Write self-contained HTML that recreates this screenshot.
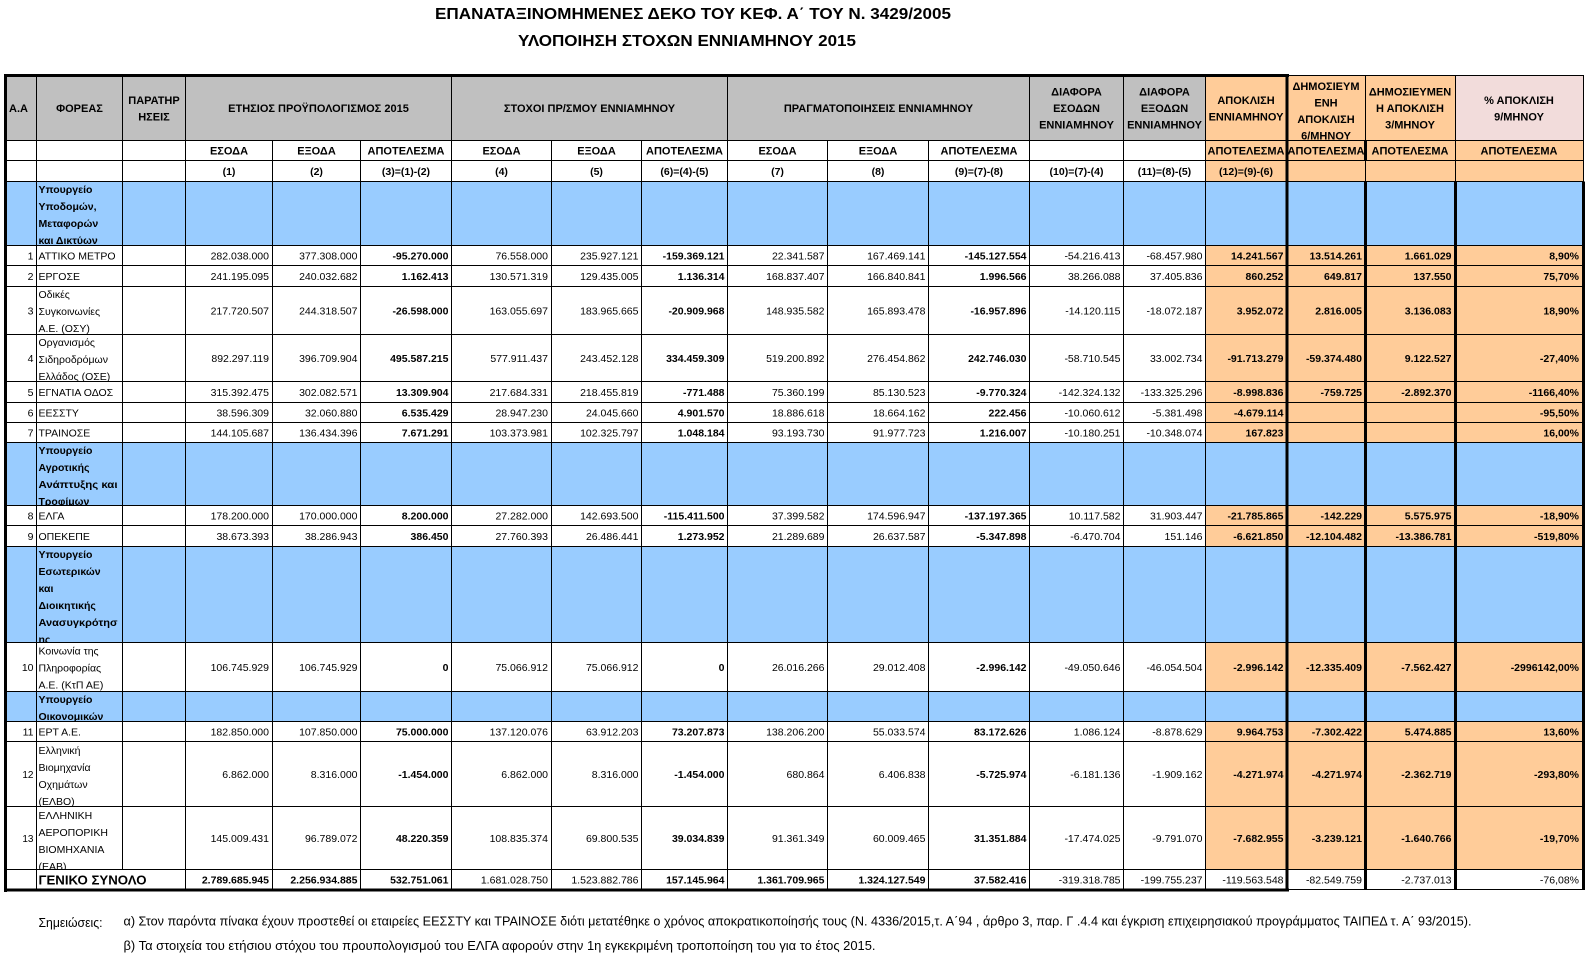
<!DOCTYPE html>
<html><head><meta charset="utf-8"><title>ΕΠΑΝΑΤΑΞΙΝΟΜΗΜΕΝΕΣ ΔΕΚΟ</title>
<style>
html,body{margin:0;padding:0;background:#fff;}
svg{display:block;}
text{font-family:"Liberation Sans","DejaVu Sans",sans-serif;font-size:10.5px;fill:#000;}
.b{font-weight:bold;}
.h{font-weight:bold;font-size:11px;text-anchor:middle;}
.e{text-anchor:end;}
.m{text-anchor:middle;}
.s{font-weight:bold;}
</style></head>
<body>
<svg width="1586" height="954" viewBox="0 0 1586 954" xmlns="http://www.w3.org/2000/svg">
<defs>
<clipPath id="kh"><rect x="1287" y="76" width="78" height="64.5"/></clipPath>
<clipPath id="ks1"><rect x="36.5" y="181.5" width="86" height="64"/></clipPath>
<clipPath id="ks2"><rect x="36.5" y="442.5" width="86" height="63"/></clipPath>
<clipPath id="ks3"><rect x="36.5" y="546.5" width="86" height="96"/></clipPath>
<clipPath id="ks4"><rect x="36.5" y="691.5" width="86" height="30"/></clipPath>
<clipPath id="k3"><rect x="36.5" y="286.5" width="86" height="48"/></clipPath>
<clipPath id="k4"><rect x="36.5" y="334.5" width="86" height="47"/></clipPath>
<clipPath id="k10"><rect x="36.5" y="642.5" width="86" height="49"/></clipPath>
<clipPath id="k12"><rect x="36.5" y="741.5" width="86" height="65"/></clipPath>
<clipPath id="k13"><rect x="36.5" y="806.5" width="86" height="63"/></clipPath>
</defs>

<!-- backgrounds -->
<rect x="0" y="0" width="1586" height="954" fill="#fff"/>
<rect x="7" y="76" width="1198.5" height="64.5" fill="#c0c0c0"/>
<rect x="1205.5" y="76" width="378" height="793.5" fill="#ffcc99"/>
<rect x="1455" y="76" width="128.5" height="64.5" fill="#f2dcdb"/>
<rect x="7" y="181.5" width="1576.5" height="64" fill="#99ccff"/>
<rect x="7" y="442.5" width="1576.5" height="63" fill="#99ccff"/>
<rect x="7" y="546.5" width="1576.5" height="96" fill="#99ccff"/>
<rect x="7" y="691.5" width="1576.5" height="30" fill="#99ccff"/>
<rect x="1205.5" y="869.5" width="378" height="20" fill="#fff"/>

<!-- Title -->
<text x="435" y="19" textLength="516" lengthAdjust="spacingAndGlyphs" style="font-size:16px;font-weight:bold">ΕΠΑΝΑΤΑΞΙΝΟΜΗΜΕΝΕΣ ΔΕΚΟ ΤΟΥ ΚΕΦ. Α΄ ΤΟΥ Ν. 3429/2005</text>
<text x="518" y="46" textLength="338" lengthAdjust="spacingAndGlyphs" style="font-size:16px;font-weight:bold">ΥΛΟΠΟΙΗΣΗ ΣΤΟΧΩΝ ΕΝΝΙΑΜΗΝΟΥ 2015</text>

<!-- Header row 1 -->
<text class="b" x="9" y="112" style="font-size:11px">Α.Α</text>
<text class="h" x="79.5" y="112">ΦΟΡΕΑΣ</text>
<text class="h" x="154" y="104">ΠΑΡΑΤΗΡ</text>
<text class="h" x="154" y="120.5">ΗΣΕΙΣ</text>
<text class="h" x="318.5" y="112">ΕΤΗΣΙΟΣ ΠΡΟΫΠΟΛΟΓΙΣΜΟΣ 2015</text>
<text class="h" x="589.5" y="112">ΣΤΟΧΟΙ ΠΡ/ΣΜΟΥ ΕΝΝΙΑΜΗΝΟΥ</text>
<text class="h" x="878.5" y="112">ΠΡΑΓΜΑΤΟΠΟΙΗΣΕΙΣ ΕΝΝΙΑΜΗΝΟΥ</text>
<text class="h" x="1076.5" y="95.5">ΔΙΑΦΟΡΑ</text>
<text class="h" x="1076.5" y="112">ΕΣΟΔΩΝ</text>
<text class="h" x="1076.5" y="128.5">ΕΝΝΙΑΜΗΝΟΥ</text>
<text class="h" x="1164.5" y="95.5">ΔΙΑΦΟΡΑ</text>
<text class="h" x="1164.5" y="112">ΕΞΟΔΩΝ</text>
<text class="h" x="1164.5" y="128.5">ΕΝΝΙΑΜΗΝΟΥ</text>
<text class="h" x="1246" y="104">ΑΠΟΚΛΙΣΗ</text>
<text class="h" x="1246" y="120.5">ΕΝΝΙΑΜΗΝΟΥ</text>
<g clip-path="url(#kh)">
<text class="h" x="1326" y="90">ΔΗΜΟΣΙΕΥΜ</text>
<text class="h" x="1326" y="106.5">ΕΝΗ</text>
<text class="h" x="1326" y="123">ΑΠΟΚΛΙΣΗ</text>
<text class="h" x="1326" y="139.5">6/ΜΗΝΟΥ</text>
</g>
<text class="h" x="1410" y="95.5">ΔΗΜΟΣΙΕΥΜΕΝ</text>
<text class="h" x="1410" y="112">Η ΑΠΟΚΛΙΣΗ</text>
<text class="h" x="1410" y="128.5">3/ΜΗΝΟΥ</text>
<text class="h" x="1519" y="104">% ΑΠΟΚΛΙΣΗ</text>
<text class="h" x="1519" y="120.5">9/ΜΗΝΟΥ</text>

<!-- Header row 2 -->
<g transform="translate(0,154.5)">
<text class="h" x="229">ΕΣΟΔΑ</text><text class="h" x="316.5">ΕΞΟΔΑ</text><text class="h" x="406">ΑΠΟΤΕΛΕΣΜΑ</text>
<text class="h" x="501.5">ΕΣΟΔΑ</text><text class="h" x="596.5">ΕΞΟΔΑ</text><text class="h" x="684.5">ΑΠΟΤΕΛΕΣΜΑ</text>
<text class="h" x="777.5">ΕΣΟΔΑ</text><text class="h" x="878">ΕΞΟΔΑ</text><text class="h" x="979">ΑΠΟΤΕΛΕΣΜΑ</text>
<text class="h" x="1246">ΑΠΟΤΕΛΕΣΜΑ</text><text class="h" x="1326">ΑΠΟΤΕΛΕΣΜΑ</text><text class="h" x="1410">ΑΠΟΤΕΛΕΣΜΑ</text><text class="h" x="1519">ΑΠΟΤΕΛΕΣΜΑ</text>
</g>
<!-- Header row 3 -->
<g transform="translate(0,175)">
<text class="m b" x="229">(1)</text><text class="m b" x="316.5">(2)</text><text class="m b" x="406">(3)=(1)-(2)</text>
<text class="m b" x="501.5">(4)</text><text class="m b" x="596.5">(5)</text><text class="m b" x="684.5">(6)=(4)-(5)</text>
<text class="m b" x="777.5">(7)</text><text class="m b" x="878">(8)</text><text class="m b" x="979">(9)=(7)-(8)</text>
<text class="m b" x="1076.5">(10)=(7)-(4)</text><text class="m b" x="1164.5">(11)=(8)-(5)</text><text class="m b" x="1246">(12)=(9)-(6)</text>
</g>

<!-- Section 1 -->
<g clip-path="url(#ks1)">
<text class="s" x="38.5" y="193">Υπουργείο</text>
<text class="s" x="38.5" y="210">Υποδομών,</text>
<text class="s" x="38.5" y="227">Μεταφορών</text>
<text class="s" x="38.5" y="244">και Δικτύων</text>
</g>

<!-- Row 1 -->
<g transform="translate(0,259.5)">
<text class="e" x="33.5">1</text><text x="38.5">ΑΤΤΙΚΟ ΜΕΤΡΟ</text>
<text class="e" x="269">282.038.000</text><text class="e" x="357.5">377.308.000</text><text class="e b" x="448.5">-95.270.000</text>
<text class="e" x="548">76.558.000</text><text class="e" x="638.5">235.927.121</text><text class="e b" x="724.5">-159.369.121</text>
<text class="e" x="824.5">22.341.587</text><text class="e" x="925.5">167.469.141</text><text class="e b" x="1026.5">-145.127.554</text>
<text class="e" x="1120.5">-54.216.413</text><text class="e" x="1202.5">-68.457.980</text>
<text class="e b" x="1283.5">14.241.567</text><text class="e b" x="1362">13.514.261</text><text class="e b" x="1451.5">1.661.029</text><text class="e b" x="1579">8,90%</text>
</g>
<!-- Row 2 -->
<g transform="translate(0,280)">
<text class="e" x="33.5">2</text><text x="38.5">ΕΡΓΟΣΕ</text>
<text class="e" x="269">241.195.095</text><text class="e" x="357.5">240.032.682</text><text class="e b" x="448.5">1.162.413</text>
<text class="e" x="548">130.571.319</text><text class="e" x="638.5">129.435.005</text><text class="e b" x="724.5">1.136.314</text>
<text class="e" x="824.5">168.837.407</text><text class="e" x="925.5">166.840.841</text><text class="e b" x="1026.5">1.996.566</text>
<text class="e" x="1120.5">38.266.088</text><text class="e" x="1202.5">37.405.836</text>
<text class="e b" x="1283.5">860.252</text><text class="e b" x="1362">649.817</text><text class="e b" x="1451.5">137.550</text><text class="e b" x="1579">75,70%</text>
</g>
<!-- Row 3 -->
<g clip-path="url(#k3)">
<text x="38.5" y="298">Οδικές</text><text x="38.5" y="315">Συγκοινωνίες</text><text x="38.5" y="332">Α.Ε.  (ΟΣΥ)</text>
</g>
<g transform="translate(0,314.5)">
<text class="e" x="33.5">3</text>
<text class="e" x="269">217.720.507</text><text class="e" x="357.5">244.318.507</text><text class="e b" x="448.5">-26.598.000</text>
<text class="e" x="548">163.055.697</text><text class="e" x="638.5">183.965.665</text><text class="e b" x="724.5">-20.909.968</text>
<text class="e" x="824.5">148.935.582</text><text class="e" x="925.5">165.893.478</text><text class="e b" x="1026.5">-16.957.896</text>
<text class="e" x="1120.5">-14.120.115</text><text class="e" x="1202.5">-18.072.187</text>
<text class="e b" x="1283.5">3.952.072</text><text class="e b" x="1362">2.816.005</text><text class="e b" x="1451.5">3.136.083</text><text class="e b" x="1579">18,90%</text>
</g>
<!-- Row 4 -->
<g clip-path="url(#k4)">
<text x="38.5" y="346">Οργανισμός</text><text x="38.5" y="363">Σιδηροδρόμων</text><text x="38.5" y="380">Ελλάδος (ΟΣΕ)</text>
</g>
<g transform="translate(0,362)">
<text class="e" x="33.5">4</text>
<text class="e" x="269">892.297.119</text><text class="e" x="357.5">396.709.904</text><text class="e b" x="448.5">495.587.215</text>
<text class="e" x="548">577.911.437</text><text class="e" x="638.5">243.452.128</text><text class="e b" x="724.5">334.459.309</text>
<text class="e" x="824.5">519.200.892</text><text class="e" x="925.5">276.454.862</text><text class="e b" x="1026.5">242.746.030</text>
<text class="e" x="1120.5">-58.710.545</text><text class="e" x="1202.5">33.002.734</text>
<text class="e b" x="1283.5">-91.713.279</text><text class="e b" x="1362">-59.374.480</text><text class="e b" x="1451.5">9.122.527</text><text class="e b" x="1579">-27,40%</text>
</g>
<!-- Row 5 -->
<g transform="translate(0,396)">
<text class="e" x="33.5">5</text><text x="38.5">ΕΓΝΑΤΙΑ ΟΔΟΣ</text>
<text class="e" x="269">315.392.475</text><text class="e" x="357.5">302.082.571</text><text class="e b" x="448.5">13.309.904</text>
<text class="e" x="548">217.684.331</text><text class="e" x="638.5">218.455.819</text><text class="e b" x="724.5">-771.488</text>
<text class="e" x="824.5">75.360.199</text><text class="e" x="925.5">85.130.523</text><text class="e b" x="1026.5">-9.770.324</text>
<text class="e" x="1120.5">-142.324.132</text><text class="e" x="1202.5">-133.325.296</text>
<text class="e b" x="1283.5">-8.998.836</text><text class="e b" x="1362">-759.725</text><text class="e b" x="1451.5">-2.892.370</text><text class="e b" x="1579">-1166,40%</text>
</g>
<!-- Row 6 -->
<g transform="translate(0,416.5)">
<text class="e" x="33.5">6</text><text x="38.5">ΕΕΣΣΤΥ</text>
<text class="e" x="269">38.596.309</text><text class="e" x="357.5">32.060.880</text><text class="e b" x="448.5">6.535.429</text>
<text class="e" x="548">28.947.230</text><text class="e" x="638.5">24.045.660</text><text class="e b" x="724.5">4.901.570</text>
<text class="e" x="824.5">18.886.618</text><text class="e" x="925.5">18.664.162</text><text class="e b" x="1026.5">222.456</text>
<text class="e" x="1120.5">-10.060.612</text><text class="e" x="1202.5">-5.381.498</text>
<text class="e b" x="1283.5">-4.679.114</text><text class="e b" x="1579">-95,50%</text>
</g>
<!-- Row 7 -->
<g transform="translate(0,436.5)">
<text class="e" x="33.5">7</text><text x="38.5">ΤΡΑΙΝΟΣΕ</text>
<text class="e" x="269">144.105.687</text><text class="e" x="357.5">136.434.396</text><text class="e b" x="448.5">7.671.291</text>
<text class="e" x="548">103.373.981</text><text class="e" x="638.5">102.325.797</text><text class="e b" x="724.5">1.048.184</text>
<text class="e" x="824.5">93.193.730</text><text class="e" x="925.5">91.977.723</text><text class="e b" x="1026.5">1.216.007</text>
<text class="e" x="1120.5">-10.180.251</text><text class="e" x="1202.5">-10.348.074</text>
<text class="e b" x="1283.5">167.823</text><text class="e b" x="1579">16,00%</text>
</g>
<!-- Section 2 -->
<g clip-path="url(#ks2)">
<text class="s" x="38.5" y="454">Υπουργείο</text>
<text class="s" x="38.5" y="471">Αγροτικής</text>
<text class="s" x="38.5" y="488" textLength="79" lengthAdjust="spacingAndGlyphs">Ανάπτυξης και</text>
<text class="s" x="38.5" y="505">Τροφίμων</text>
</g>
<!-- Row 8 -->
<g transform="translate(0,519.5)">
<text class="e" x="33.5">8</text><text x="38.5">ΕΛΓΑ</text>
<text class="e" x="269">178.200.000</text><text class="e" x="357.5">170.000.000</text><text class="e b" x="448.5">8.200.000</text>
<text class="e" x="548">27.282.000</text><text class="e" x="638.5">142.693.500</text><text class="e b" x="724.5">-115.411.500</text>
<text class="e" x="824.5">37.399.582</text><text class="e" x="925.5">174.596.947</text><text class="e b" x="1026.5">-137.197.365</text>
<text class="e" x="1120.5">10.117.582</text><text class="e" x="1202.5">31.903.447</text>
<text class="e b" x="1283.5">-21.785.865</text><text class="e b" x="1362">-142.229</text><text class="e b" x="1451.5">5.575.975</text><text class="e b" x="1579">-18,90%</text>
</g>
<!-- Row 9 -->
<g transform="translate(0,540)">
<text class="e" x="33.5">9</text><text x="38.5">ΟΠΕΚΕΠΕ</text>
<text class="e" x="269">38.673.393</text><text class="e" x="357.5">38.286.943</text><text class="e b" x="448.5">386.450</text>
<text class="e" x="548">27.760.393</text><text class="e" x="638.5">26.486.441</text><text class="e b" x="724.5">1.273.952</text>
<text class="e" x="824.5">21.289.689</text><text class="e" x="925.5">26.637.587</text><text class="e b" x="1026.5">-5.347.898</text>
<text class="e" x="1120.5">-6.470.704</text><text class="e" x="1202.5">151.146</text>
<text class="e b" x="1283.5">-6.621.850</text><text class="e b" x="1362">-12.104.482</text><text class="e b" x="1451.5">-13.386.781</text><text class="e b" x="1579">-519,80%</text>
</g>
<!-- Section 3 -->
<g clip-path="url(#ks3)">
<text class="s" x="38.5" y="558">Υπουργείο</text>
<text class="s" x="38.5" y="575">Εσωτερικών</text>
<text class="s" x="38.5" y="592">και</text>
<text class="s" x="38.5" y="609">Διοικητικής</text>
<text class="s" x="38.5" y="626" textLength="79" lengthAdjust="spacingAndGlyphs">Ανασυγκρότησ</text>
<text class="s" x="38.5" y="643">ης</text>
</g>
<!-- Row 10 -->
<g clip-path="url(#k10)">
<text x="38.5" y="654.5">Κοινωνία της</text><text x="38.5" y="671.5">Πληροφορίας</text><text x="38.5" y="688.5">Α.Ε. (ΚτΠ ΑΕ)</text>
</g>
<g transform="translate(0,671)">
<text class="e" x="33.5">10</text>
<text class="e" x="269">106.745.929</text><text class="e" x="357.5">106.745.929</text><text class="e b" x="448.5">0</text>
<text class="e" x="548">75.066.912</text><text class="e" x="638.5">75.066.912</text><text class="e b" x="724.5">0</text>
<text class="e" x="824.5">26.016.266</text><text class="e" x="925.5">29.012.408</text><text class="e b" x="1026.5">-2.996.142</text>
<text class="e" x="1120.5">-49.050.646</text><text class="e" x="1202.5">-46.054.504</text>
<text class="e b" x="1283.5">-2.996.142</text><text class="e b" x="1362">-12.335.409</text><text class="e b" x="1451.5">-7.562.427</text><text class="e b" x="1579">-2996142,00%</text>
</g>
<!-- Section 4 -->
<g clip-path="url(#ks4)">
<text class="s" x="38.5" y="703">Υπουργείο</text>
<text class="s" x="38.5" y="720">Οικονομικών</text>
</g>
<!-- Row 11 -->
<g transform="translate(0,735.5)">
<text class="e" x="33.5">11</text><text x="38.5">ΕΡΤ Α.Ε.</text>
<text class="e" x="269">182.850.000</text><text class="e" x="357.5">107.850.000</text><text class="e b" x="448.5">75.000.000</text>
<text class="e" x="548">137.120.076</text><text class="e" x="638.5">63.912.203</text><text class="e b" x="724.5">73.207.873</text>
<text class="e" x="824.5">138.206.200</text><text class="e" x="925.5">55.033.574</text><text class="e b" x="1026.5">83.172.626</text>
<text class="e" x="1120.5">1.086.124</text><text class="e" x="1202.5">-8.878.629</text>
<text class="e b" x="1283.5">9.964.753</text><text class="e b" x="1362">-7.302.422</text><text class="e b" x="1451.5">5.474.885</text><text class="e b" x="1579">13,60%</text>
</g>
<!-- Row 12 -->
<g clip-path="url(#k12)">
<text x="38.5" y="754">Ελληνική</text><text x="38.5" y="771">Βιομηχανία</text><text x="38.5" y="788">Οχημάτων</text><text x="38.5" y="805">(ΕΛΒΟ)</text>
</g>
<g transform="translate(0,778)">
<text class="e" x="33.5" style="font-size:10px">12</text>
<text class="e" x="269">6.862.000</text><text class="e" x="357.5">8.316.000</text><text class="e b" x="448.5">-1.454.000</text>
<text class="e" x="548">6.862.000</text><text class="e" x="638.5">8.316.000</text><text class="e b" x="724.5">-1.454.000</text>
<text class="e" x="824.5">680.864</text><text class="e" x="925.5">6.406.838</text><text class="e b" x="1026.5">-5.725.974</text>
<text class="e" x="1120.5">-6.181.136</text><text class="e" x="1202.5">-1.909.162</text>
<text class="e b" x="1283.5">-4.271.974</text><text class="e b" x="1362">-4.271.974</text><text class="e b" x="1451.5">-2.362.719</text><text class="e b" x="1579">-293,80%</text>
</g>
<!-- Row 13 -->
<g clip-path="url(#k13)">
<text x="38.5" y="819">ΕΛΛΗΝΙΚΗ</text><text x="38.5" y="836">ΑΕΡΟΠΟΡΙΚΗ</text><text x="38.5" y="853">ΒΙΟΜΗΧΑΝΙΑ</text><text x="38.5" y="870">(ΕΑΒ)</text>
</g>
<g transform="translate(0,842)">
<text class="e" x="33.5" style="font-size:10px">13</text>
<text class="e" x="269">145.009.431</text><text class="e" x="357.5">96.789.072</text><text class="e b" x="448.5">48.220.359</text>
<text class="e" x="548">108.835.374</text><text class="e" x="638.5">69.800.535</text><text class="e b" x="724.5">39.034.839</text>
<text class="e" x="824.5">91.361.349</text><text class="e" x="925.5">60.009.465</text><text class="e b" x="1026.5">31.351.884</text>
<text class="e" x="1120.5">-17.474.025</text><text class="e" x="1202.5">-9.791.070</text>
<text class="e b" x="1283.5">-7.682.955</text><text class="e b" x="1362">-3.239.121</text><text class="e b" x="1451.5">-1.640.766</text><text class="e b" x="1579">-19,70%</text>
</g>
<!-- Total -->
<g transform="translate(0,883.5)">
<text x="38.5" y="1" textLength="108" lengthAdjust="spacingAndGlyphs" style="font-size:13px;font-weight:bold">ΓΕΝΙΚΟ ΣΥΝΟΛΟ</text>
<text class="e b" x="269">2.789.685.945</text><text class="e b" x="357.5">2.256.934.885</text><text class="e b" x="448.5">532.751.061</text>
<text class="e" x="548">1.681.028.750</text><text class="e" x="638.5">1.523.882.786</text><text class="e b" x="724.5">157.145.964</text>
<text class="e b" x="824.5">1.361.709.965</text><text class="e b" x="925.5">1.324.127.549</text><text class="e b" x="1026.5">37.582.416</text>
<text class="e" x="1120.5">-319.318.785</text><text class="e" x="1202.5">-199.755.237</text>
<text class="e" x="1283.5">-119.563.548</text><text class="e" x="1362">-82.549.759</text><text class="e" x="1451.5">-2.737.013</text><text class="e" x="1579">-76,08%</text>
</g>

<!-- thin grid lines -->
<g stroke="#000" stroke-width="1" fill="none" shape-rendering="crispEdges">
<path d="M7 140.5H1583.5M7 160.5H1583.5M7 181.5H1583.5M7 245.5H1583.5M7 265.5H1583.5M7 286.5H1583.5M7 334.5H1583.5M7 381.5H1583.5M7 402.5H1583.5M7 422.5H1583.5M7 442.5H1583.5M7 505.5H1583.5M7 525.5H1583.5M7 546.5H1583.5M7 642.5H1583.5M7 691.5H1583.5M7 721.5H1583.5M7 741.5H1583.5M7 806.5H1583.5M7 869.5H1583.5"/>
<path d="M1287 75.5H1584M1287 889.5H1584"/>
<path d="M36.5 77V889M185.5 77V889M451.5 77V889M727.5 77V889M1029.5 77V889M1123.5 77V889M1205.5 77V889M122.5 77V869.5"/>
<path d="M272.5 140.5V889M360.5 140.5V889M551.5 140.5V889M641.5 140.5V889M827.5 140.5V889M928.5 140.5V889"/>
<path d="M1365.5 76V140.5M1365.5 160.5V181.5M1455.5 76V181.5M1583.5 75.5V181.5"/>
</g>
<!-- thick borders -->
<g fill="#000" shape-rendering="crispEdges">
<rect x="4" y="74" width="1285" height="3"/>
<rect x="4" y="74" width="3" height="818"/>
<rect x="4" y="888.5" width="1285" height="3"/>
<rect x="1285.5" y="74" width="3" height="817.5"/>
<rect x="1364" y="140.5" width="3" height="20"/>
<rect x="1364" y="181.5" width="3" height="708.5"/>
<rect x="1454" y="181.5" width="3" height="708.5"/>
<rect x="1582" y="181.5" width="3" height="708.5"/>
</g>

<!-- Notes -->
<text x="38.5" y="927" textLength="64" lengthAdjust="spacingAndGlyphs" style="font-size:12.5px">Σημειώσεις:</text>
<text x="123.5" y="925.5" textLength="1348" lengthAdjust="spacingAndGlyphs" style="font-size:12.5px">α) Στον παρόντα πίνακα έχουν προστεθεί οι εταιρείες ΕΕΣΣΤΥ και ΤΡΑΙΝΟΣΕ διότι μετατέθηκε ο χρόνος αποκρατικοποίησής τους (Ν. 4336/2015,τ. Α΄94 , άρθρο 3, παρ. Γ .4.4 και  έγκριση επιχειρησιακού προγράμματος ΤΑΙΠΕΔ τ. Α΄ 93/2015).</text>
<text x="123.5" y="950" textLength="752" lengthAdjust="spacingAndGlyphs" style="font-size:12.5px">β) Τα στοιχεία του ετήσιου στόχου του προυπολογισμού του ΕΛΓΑ  αφορούν στην 1η εγκεκριμένη τροποποίηση του για το έτος 2015.</text>
</svg>
</body></html>
